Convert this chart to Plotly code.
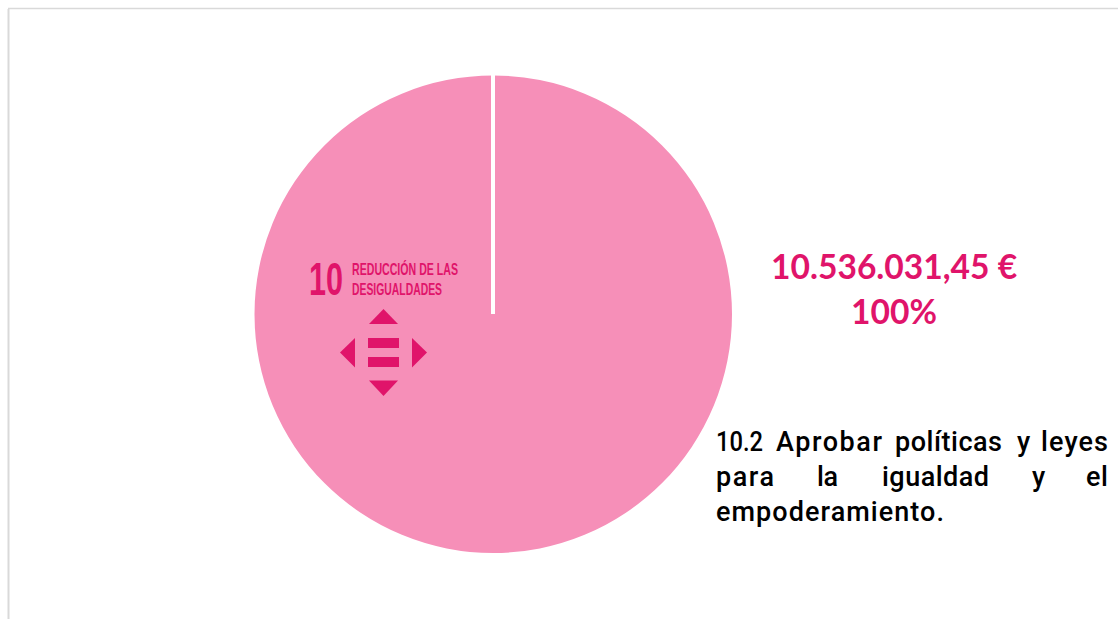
import json
import plotly.graph_objects as go

labels = ["10.2 Aprobar políticas y leyes para la igualdad y el empoderamiento."]
values = [10536031.45]
amount_text = "10.536.031,45 €"
share_text = "100%"
W, H = 1118, 619
PINK = "#F68FB8"
MAGENTA = "#E0146A"
GREY = "#D9D9D9"

fig = go.Figure(go.Pie(
    labels=labels, values=values, sort=False, direction="clockwise", rotation=0,
    marker=dict(colors=[PINK], line=dict(width=0)),
    textinfo="none", hoverinfo="label+value+percent", showlegend=False,
    domain=dict(x=[254.5/W, 732/W], y=[1-553/H, 1-75.5/H]),
))

def poly(pts, color):
    d = "M" + " L".join(f"{x},{y}" for x, y in pts) + " Z"
    return dict(type="path", path=d, xref="x", yref="y", fillcolor=color, line=dict(width=0), layer="above")

def seg(x0, y0, x1, y1, color, w):
    return dict(type="line", x0=x0, y0=y0, x1=x1, y1=y1, xref="x", yref="y", line=dict(color=color, width=w), layer="above")

shapes = [
    seg(8.5, 9, 8.5, 619, GREY, 2),
    seg(8, 8.5, 1118, 8.5, GREY, 1.5),
    seg(493, 74, 493, 314, "white", 4),
    poly([(383.5, 309), (398, 324), (369, 324)], MAGENTA),
    poly([(383.5, 396), (398, 380.5), (369, 380.5)], MAGENTA),
    poly([(340, 352.5), (355, 338), (355, 367.5)], MAGENTA),
    poly([(427, 352.5), (412, 338), (412, 367.5)], MAGENTA),
    poly([(368, 338), (399, 338), (399, 348), (368, 348)], MAGENTA),
    poly([(368, 357), (399, 357), (399, 367), (368, 367)], MAGENTA),
]

def txt(x, y, s, size, color, family, anchor="left", weight="normal"):
    return dict(x=x, y=y, xref="x", yref="y", text=s, showarrow=False,
                xanchor=anchor, yanchor="middle", align=anchor, borderpad=0,
                font=dict(size=size, color=color, family=family, weight=weight))

SANS = "Liberation Sans"
BODY = "Roboto"
BIG = "Lato"
annotations = [
    txt(308, 279, "10", 46, MAGENTA, SANS, weight="bold"),
    txt(351, 269, "REDUCCIÓN DE LAS", 17, MAGENTA, SANS, weight="bold"),
    txt(351, 289, "DESIGUALDADES", 17, MAGENTA, SANS, weight="bold"),
    txt(894, 265.5, amount_text, 33.6, MAGENTA, BIG, "center", "bold"),
    txt(894, 310.5, share_text, 33.6, MAGENTA, BIG, "center", "bold"),
]
for x, s in [(715, "10.2"), (775, "Aprobar"), (894, "políticas"), (1016, "y"), (1040, "leyes")]:
    annotations.append(txt(x, 442, s, 27, "#000000", BODY, weight=500))
for x, s in [(715, "para"), (816, "la"), (881, "igualdad"), (1031, "y"), (1085, "el")]:
    annotations.append(txt(x, 477, s, 27, "#000000", BODY, weight=500))
annotations.append(txt(715, 512, "empoderamiento.", 27, "#000000", BODY, weight=500))

fig.update_layout(
    width=W, height=H, margin=dict(l=0, r=0, t=0, b=0),
    paper_bgcolor="white", plot_bgcolor="rgba(0,0,0,0)",
    xaxis=dict(range=[0, W], visible=False, domain=[0, 1], fixedrange=True),
    yaxis=dict(range=[H, 0], visible=False, domain=[0, 1], fixedrange=True),
    shapes=shapes, annotations=annotations,
)

# Target rendered widths: condensed label glyphs are squeezed, body words get tracked out.
squeeze = {"10": 34, "REDUCCIÓN DE LAS": 106, "DESIGUALDADES": 90, "10.2": 47}
track = {"Aprobar": 106, "políticas": 107, "y": 11, "leyes": 67, "para": 58,
         "la": 21, "igualdad": 107, "el": 22, "empoderamiento.": 228}
post = """
document.body.style.margin='0';document.body.style.overflow='hidden';
var sq=%s, tr=%s;
document.querySelectorAll('text.annotation-text').forEach(function(t){
  var s=t.textContent;
  if(s in sq){t.setAttribute('textLength',sq[s]);t.setAttribute('lengthAdjust','spacingAndGlyphs');}
  else if(s in tr){t.setAttribute('textLength',tr[s]);t.setAttribute('lengthAdjust','spacing');}
});
""" % (json.dumps(squeeze), json.dumps(track))
fig.write_html("out.html", config={"displayModeBar": False}, post_script=post)
